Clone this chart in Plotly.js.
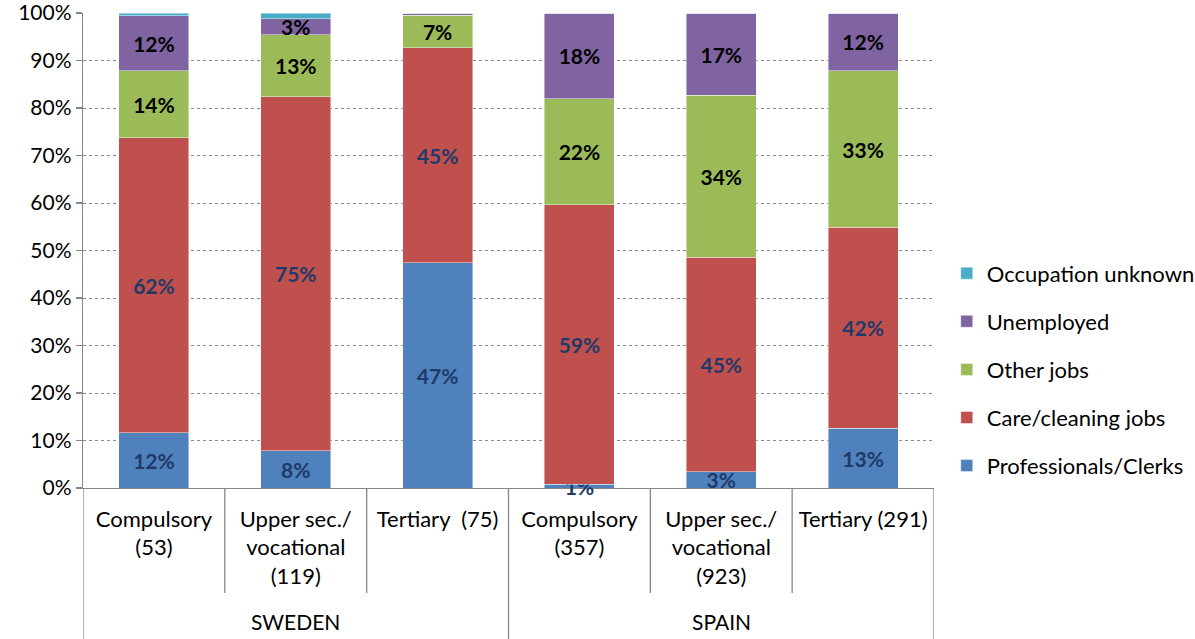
<!DOCTYPE html>
<html>
<head>
<meta charset="utf-8">
<script src="https://cdn.plot.ly/plotly-3.0.1.min.js"></script>
<style>
html,body{margin:0;padding:0;background:#fff;}
#chart{width:1195px;height:639px;}
</style>
</head>
<body>
<div id="chart"></div>
<script>
// Categories (x positions 0..5)
const categories = ["Compulsory<br>(53)", "Upper sec./<br>vocational<br>(119)", "Tertiary  (75)",
                    "Compulsory<br>(357)", "Upper sec./<br>vocational<br>(923)", "Tertiary (291)"];
const groups = ["SWEDEN", "SPAIN"];

// Series values (% share)
const professionals = [11.6, 7.8, 47.4, 0.8, 3.4, 12.6];
const careCleaning  = [62.1, 74.6, 45.3, 58.8, 45.2, 42.3];
const otherJobs     = [14.1, 13.0, 6.8, 22.4, 34.1, 32.9];
const unemployed    = [11.6, 3.4, 0.5, 18.0, 17.3, 12.2];
const unknownOcc    = [0.6, 1.2, 0.0, 0.0, 0.0, 0.0];

// Data labels as shown
const professionalsLabels = ["12%", "8%", "47%", "1%", "3%", "13%"];
const careLabels          = ["62%", "75%", "45%", "59%", "45%", "42%"];
const otherLabels         = ["14%", "13%", "7%", "22%", "34%", "33%"];
const unemployedLabels    = ["12%", "3%", "", "18%", "17%", "12%"];

const yTicks = [0,10,20,30,40,50,60,70,80,90,100];

const FONT = "Lato, 'Liberation Sans', sans-serif";
const xIdx = categories.map((c, i) => i);

function barTrace(name, vals, labels, color, labelColor, rank) {
  return {
    type: "bar",
    name: name,
    x: xIdx,
    y: vals,
    text: labels,
    textposition: labels ? "inside" : "none",
    insidetextanchor: "middle",
    textangle: 0,
    constraintext: "none",
    cliponaxis: false,
    textfont: {family: FONT, size: 21, color: labelColor, weight: "bold"},
    marker: {color: color, line: {color: "rgba(255,255,255,0.55)", width: 0.8}},
    legendgroup: "g" + rank,
    legendrank: rank,
    hoverinfo: "skip"
  };
}

const traces = [
  barTrace("Professionals/Clerks", professionals, professionalsLabels, "#4F81BD", "#1F3A68", 5),
  barTrace("Care/cleaning jobs", careCleaning, careLabels, "#C0504D", "#1F3A68", 4),
  barTrace("Other jobs", otherJobs, otherLabels, "#9BBB59", "#000000", 3),
  barTrace("Unemployed", unemployed, unemployedLabels, "#8064A2", "#000000", 2),
  barTrace("Occupation unknown", unknownOcc, null, "#4BACC6", "#000000", 1)
];

// Divider lines below the axis (category and group separators)
const shapes = [];
[-0.5, 2.5, 5.5].forEach(x => shapes.push({type: "line", xref: "x", yref: "paper", x0: x, x1: x, y0: 0, y1: -0.34,
  line: {color: "#868686", width: 1.3}}));
[0.5, 1.5, 3.5, 4.5].forEach(x => shapes.push({type: "line", xref: "x", yref: "paper", x0: x, x1: x, y0: 0, y1: -0.221,
  line: {color: "#868686", width: 1.3}}));

const annotations = [
  {text: groups[0], xref: "x", yref: "paper", x: 1, y: -0.282, yanchor: "middle", showarrow: false, font: {family: FONT, size: 21, color: "#000"}},
  {text: groups[1], xref: "x", yref: "paper", x: 4, y: -0.282, yanchor: "middle", showarrow: false, font: {family: FONT, size: 21, color: "#000"}}
];

const layout = {
  width: 1195, height: 639,
  margin: {l: 83, r: 261, t: 13, b: 151, autoexpand: false},
  paper_bgcolor: "#fff", plot_bgcolor: "#fff",
  barmode: "stack",
  bargap: 0.507,
  font: {family: FONT, size: 21, color: "#000"},
  xaxis: {
    type: "linear",
    range: [-0.5, 5.5],
    tickmode: "array",
    tickvals: xIdx,
    ticktext: categories,
    ticks: "",
    showgrid: false,
    zeroline: false,
    showline: true,
    linecolor: "#868686",
    linewidth: 1.3,
    layer: "below traces",
    ticklabelstandoff: 11,
    ticklabeloverflow: "allow",
    automargin: false,
    tickfont: {family: FONT, size: 22, color: "#000"}
  },
  yaxis: {
    range: [0, 100],
    tickmode: "array",
    tickvals: yTicks,
    ticktext: yTicks.map(v => v + "%"),
    ticks: "outside",
    ticklen: 6,
    tickcolor: "#868686",
    tickwidth: 1.3,
    showline: true,
    linecolor: "#868686",
    linewidth: 1.3,
    showgrid: true,
    gridcolor: "#8a8a8a",
    griddash: "dot",
    gridwidth: 1,
    zeroline: false,
    layer: "below traces",
    ticklabeloverflow: "allow",
    automargin: false,
    tickfont: {family: FONT, size: 21, color: "#000"}
  },
  legend: {
    x: 1.015, xanchor: "left",
    y: 0.496, yanchor: "top",
    traceorder: "grouped",
    tracegroupgap: 16.5,
    font: {family: FONT, size: 22, color: "#000"},
    bgcolor: "rgba(0,0,0,0)"
  },
  shapes: shapes,
  annotations: annotations,
  showlegend: true
};

Plotly.newPlot("chart", traces, layout, {displayModeBar: false, staticPlot: true});
</script>
</body>
</html>
